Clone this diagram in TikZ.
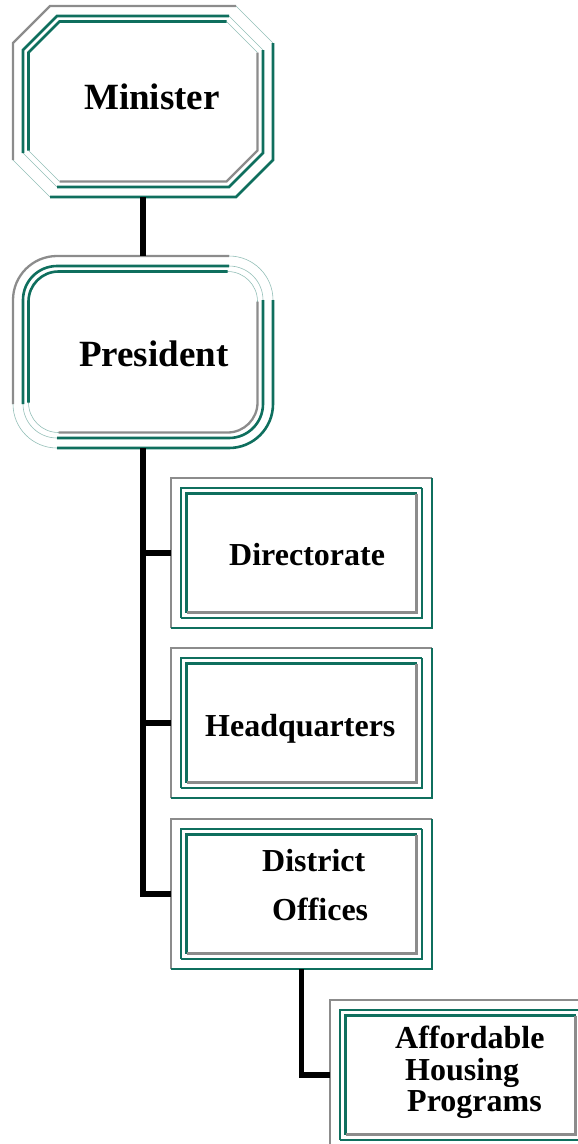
\documentclass[tikz,border=0pt]{standalone}
\usepackage{fontspec}
\setmainfont{Liberation Serif}
\usetikzlibrary{calc}
\definecolor{frteal}{HTML}{0F6F5E}
\definecolor{frgray}{HTML}{8C8C8C}
\tikzset{
  box/.style={inner sep=0pt, outer sep=0pt, minimum width=261pt, minimum height=150pt},
  grayline/.style={draw=frgray, line width=2.3pt},
  tealline/.style={draw=frteal, line width=2.6pt},
  thinline/.style={draw=frteal!45, line width=0.6pt},
  conn/.style={draw=black, line width=5.5pt},
  txt/.style={inner sep=0pt, anchor=base west, font=\bfseries\fontsize{32}{36}\selectfont},
  bigtxt/.style={txt, font=\bfseries\fontsize{37}{40}\selectfont}
}
\def\roundhalves[#1][#2](#3)(#4)(#5){
  \draw[thinline, rounded corners=#5] (#3) rectangle (#4);
  \draw[#1, rounded corners=#5] ($(#3 |- #4)+(0,#5)$) |- ($(#4 |- #3)+(-#5,0)$);
  \draw[#2, rounded corners=#5] ($(#4 |- #3)+(0,-#5)$) |- ($(#3 |- #4)+(#5,0)$);}
\def\octhalves[#1][#2](#3)(#4)(#5){
  \draw[thinline] ($(#4 |- #3)+(-#5,0)$) -- ($(#4 |- #3)+(0,-#5)$) ($(#3 |- #4)+(#5,0)$) -- ($(#3 |- #4)+(0,#5)$);
  \draw[#1] ($(#3 |- #4)+(0,#5)$) -- ($(#3)+(0,-#5)$) -- ($(#3)+(#5,0)$) -- ($(#4 |- #3)+(-#5,0)$);
  \draw[#2] ($(#4 |- #3)+(0,-#5)$) -- ($(#4)+(0,#5)$) -- ($(#4)+(-#5,0)$) -- ($(#3 |- #4)+(#5,0)$);}
\def\framed(#1)(#2:#3:#4){
  \path (#1.north west) ++(10,-10) coordinate (#1m1) (#1.south east) ++(-10,10) coordinate (#1m2)
        (#1.north west) ++(15.5,-15.5) coordinate (#1i1) (#1.south east) ++(-15.5,15.5) coordinate (#1i2);
  \roundhalves[grayline][tealline](#1.north west)(#1.south east)(#2)
  \roundhalves[tealline][tealline](#1m1)(#1m2)(#3)
  \roundhalves[tealline][grayline](#1i1)(#1i2)(#4)}
\def\octframed(#1)(#2:#3:#4){
  \path (#1.north west) ++(10,-10) coordinate (#1m1) (#1.south east) ++(-10,10) coordinate (#1m2)
        (#1.north west) ++(15.5,-15.5) coordinate (#1i1) (#1.south east) ++(-15.5,15.5) coordinate (#1i2);
  \octhalves[grayline][tealline](#1.north west)(#1.south east)(#2)
  \octhalves[tealline][tealline](#1m1)(#1m2)(#3)
  \octhalves[tealline][grayline](#1i1)(#1i2)(#4)}

\begin{document}
\begin{tikzpicture}[x=1pt,y=1pt]
  \useasboundingbox (0,0) rectangle (578,-1144);
  \clip (0,0) rectangle (578,-1144);

  \node[box, minimum width=260pt, minimum height=191pt] (min) at (143,-101.5) {};
  \node[box, minimum width=260pt, minimum height=192pt] (pres) at (143,-352) {};
  \node[box] (dir) at (301.5,-553) {};
  \node[box] (hq) at (301.5,-723) {};
  \node[box] (dist) at (301.5,-894) {};
  \node[box] (ahp) at (460.5,-1075) {};

  \octframed(min)(37:34:31)
  \framed(pres)(44:34:30)
  \framed(dir)(0:0:0)
  \framed(hq)(0:0:0)
  \framed(dist)(0:0:0)
  \framed(ahp)(0:0:0)

  \draw[conn] (min) -- (pres);
  \draw[conn] (pres.south) |- (dir.west);
  \draw[conn] (pres.south) |- (hq.west);
  \draw[conn] (pres.south) |- (dist.west);
  \draw[conn] (dist.south) |- (ahp.west);

  \node[bigtxt] (tmin) at (84,-109) {Minister};
  \node[bigtxt] (tpres) at (79,-366.7) {President};
  \node[txt] (tdir) at (229,-565) {Directorate};
  \node[txt] (thq) at (205,-736) {Headquarters};
  \node[txt] (tdist) at (262,-871.7) {District};
  \node[txt] (toff) at (272,-920) {Offices};
  \node[txt] (taff) at (395,-1048) {Affordable};
  \node[txt] (thou) at (405,-1080.5) {Housing};
  \node[txt] (tprog) at (407,-1111.5) {Programs};
\end{tikzpicture}
\end{document}
